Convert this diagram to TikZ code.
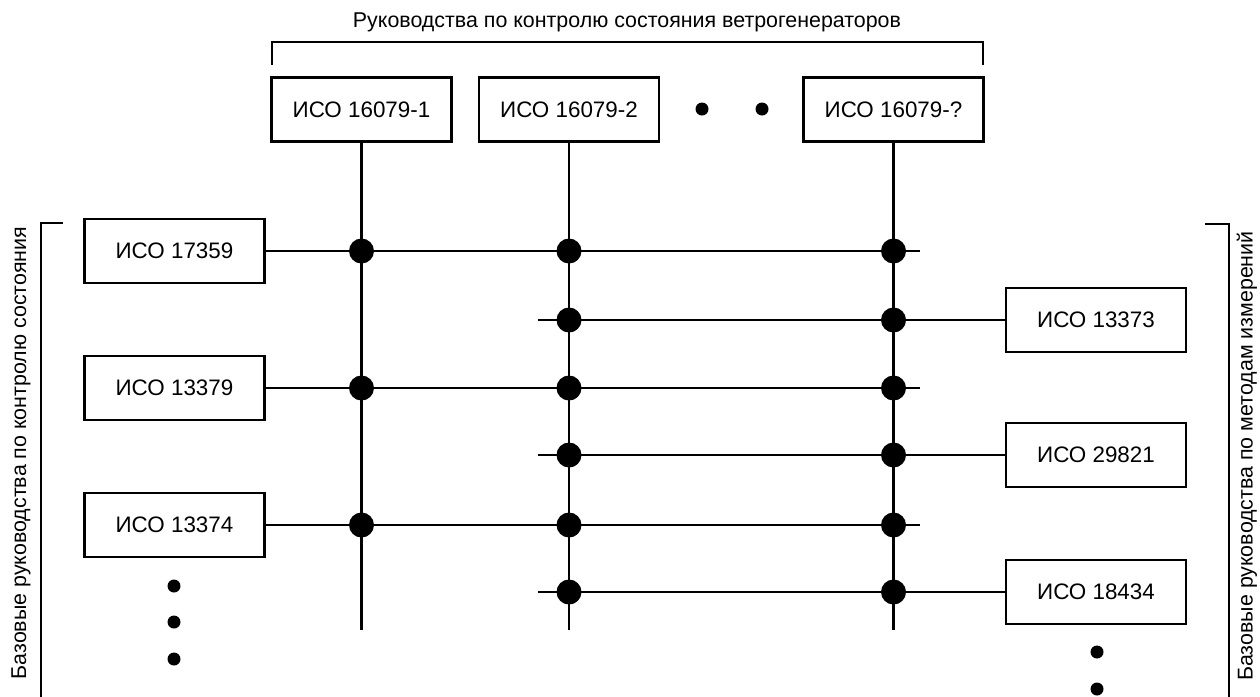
\documentclass[tikz,border=0pt]{standalone}
\usepackage{fontspec}
\setmainfont{Liberation Sans}

\begin{document}
\begin{tikzpicture}[x=0.5pt, y=-0.5pt, line width=1.4pt,
    every node/.style={font=\fontsize{11.2}{13}\selectfont},
    isobox/.style={draw, rectangle, minimum width=90pt, minimum height=32pt, inner sep=0pt},
    joint/.style={circle, fill=black, inner sep=0pt, minimum size=12.5pt},
    smalldot/.style={circle, fill=black, inner sep=0pt, minimum size=6.5pt},
    bracket/.style={line width=0.7pt},
    caption/.style={font=\fontsize{10.7}{12}\selectfont, inner sep=0pt}]
    \useasboundingbox (0,0) rectangle (1260,697);

    % top: wind turbine guides
    \node (head) at (627,22) [caption] {Руководства по контролю состояния ветрогенераторов};
    \coordinate (ha) at (272,65);
    \coordinate (hb) at (272,42);
    \coordinate (hc) at (983,42);
    \coordinate (hd) at (983,65);
    \draw[bracket] (ha) -- (hb) -- (hc) -- (hd);

    \node (t1) at (361.5,109.5) [isobox] {ИСО 16079-1};
    \node (t2) at (569,109.5) [isobox] {ИСО 16079-2};
    \node (t3) at (893.5,109.5) [isobox] {ИСО 16079-?};
    \node (td1) at (702,109) [smalldot] {};
    \node (td2) at (762,109) [smalldot] {};

    \coordinate (v1) at (361.5,630);
    \coordinate (v2) at (569,630);
    \coordinate (v3) at (893.5,630);
    \draw (t1) -- (v1);
    \draw (t2) -- (v2);
    \draw (t3) -- (v3);

    % left: condition monitoring guides
    \node (lcap) at (21,453) [caption, rotate=90] {Базовые руководства по контролю состояния};
    \coordinate (la) at (63,223);
    \coordinate (lb) at (41,223);
    \coordinate (lc) at (41,697);
    \draw[bracket] (la) -- (lb) -- (lc);

    \node (l1) at (174.5,251) [isobox] {ИСО 17359};
    \node (j11) at (361.5,251) [joint] {};
    \node (j12) at (569,251) [joint] {};
    \node (j13) at (893.5,251) [joint] {};
    \coordinate (s1) at (920,251);
    \draw (l1) -- (s1);

    \node (l2) at (174.5,388) [isobox] {ИСО 13379};
    \node (j31) at (361.5,388) [joint] {};
    \node (j32) at (569,388) [joint] {};
    \node (j33) at (893.5,388) [joint] {};
    \coordinate (s3) at (920,388);
    \draw (l2) -- (s3);

    \node (l3) at (174.5,525) [isobox] {ИСО 13374};
    \node (j51) at (361.5,525) [joint] {};
    \node (j52) at (569,525) [joint] {};
    \node (j53) at (893.5,525) [joint] {};
    \coordinate (s5) at (920,525);
    \draw (l3) -- (s5);

    \node (ld1) at (174,586) [smalldot] {};
    \node (ld2) at (174,622) [smalldot] {};
    \node (ld3) at (174,659) [smalldot] {};

    % right: measurement method guides
    \node (rcap) at (1247,456) [caption, rotate=90] {Базовые руководства по методам измерений};
    \coordinate (ra) at (1205,224);
    \coordinate (rb) at (1229,224);
    \coordinate (rc) at (1229,697);
    \draw[bracket] (ra) -- (rb) -- (rc);

    \node (r1) at (1096,320) [isobox] {ИСО 13373};
    \node (j22) at (569,320) [joint] {};
    \node (j23) at (893.5,320) [joint] {};
    \coordinate (s2) at (538,320);
    \draw (s2) -- (r1);

    \node (r2) at (1096,455) [isobox] {ИСО 29821};
    \node (j42) at (569,455) [joint] {};
    \node (j43) at (893.5,455) [joint] {};
    \coordinate (s4) at (538,455);
    \draw (s4) -- (r2);

    \node (r3) at (1096,592) [isobox] {ИСО 18434};
    \node (j62) at (569,592) [joint] {};
    \node (j63) at (893.5,592) [joint] {};
    \coordinate (s6) at (538,592);
    \draw (s6) -- (r3);

    \node (rd1) at (1097,652) [smalldot] {};
    \node (rd2) at (1097,689) [smalldot] {};
  \end{tikzpicture}
\end{document}
